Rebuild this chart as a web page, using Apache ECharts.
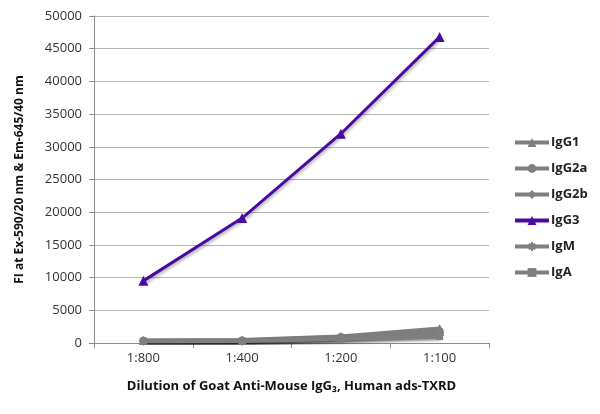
<!DOCTYPE html>
<html>
<head>
<meta charset="utf-8">
<style>
  html, body { margin: 0; padding: 0; background: #fff; }
  #mychart { width: 600px; height: 414px; }
</style>
<script src="https://cdn.jsdelivr.net/npm/echarts@6/dist/echarts.min.js"></script>
</head>
<body>
<div id="mychart"></div>
<script>
// data
const dilutions = ['1:800', '1:400', '1:200', '1:100'];
const igG1 = [400, 450, 1000, 2200];
const igG2a = [350, 400, 900, 1800];
const igG2b = [300, 350, 800, 1500];
const igG3 = [9500, 19100, 32000, 46800];
const igM = [300, 300, 700, 1200];
const igA = [250, 300, 600, 1000];

const gray = '#7f7f7f';
const purple = '#4a0c9e';
const font = '"Open Sans", "DejaVu Sans", sans-serif';
// asterisk marker for IgM
const starPath = 'path://M5,0L5,10M0,5L10,5M1.5,1.5L8.5,8.5M8.5,1.5L1.5,8.5';

function makeSeries(name, data, symbol, color, width, size) {
  return {
    name: name,
    type: 'line',
    data: data,
    symbol: symbol,
    symbolSize: size,
    lineStyle: {
      color: color,
      width: width,
      shadowColor: 'rgba(0,0,0,0.3)',
      shadowBlur: 3,
      shadowOffsetX: 1,
      shadowOffsetY: 2,
    },
    itemStyle: {
      color: color,
      borderColor: color,
      borderWidth: symbol === starPath ? 1.5 : 0,
    },
  };
}

let myChart = echarts.init(document.getElementById('mychart'));
let option = {
  animation: false,
  textStyle: { fontFamily: font },
  grid: { left: 94, right: 111, top: 16, bottom: 71 },
  legend: {
    orient: 'vertical',
    left: 508,
    top: 131,
    itemGap: 13,
    itemWidth: 34,
    itemHeight: 11,
    lineStyle: { width: 4 },
    textStyle: { fontSize: 13, fontWeight: 'bold', color: '#222', padding: [0, 0, 0, -3] },
    data: ['IgG1', 'IgG2a', 'IgG2b', 'IgG3', 'IgM', 'IgA'],
  },
  xAxis: {
    type: 'category',
    data: dilutions,
    boundaryGap: true,
    name: 'Dilution of Goat Anti-Mouse IgG\u2083, Human ads-TXRD',
    nameLocation: 'middle',
    nameGap: 37,
    nameTextStyle: { fontSize: 13, fontWeight: 'bold', color: '#111' },
    axisLine: { lineStyle: { color: '#8c8c8c', width: 1 } },
    axisTick: { show: true, length: 5, lineStyle: { color: '#8c8c8c' } },
    axisLabel: { color: '#333', fontSize: 13, margin: 9 },
  },
  yAxis: {
    type: 'value',
    min: 0,
    max: 50000,
    interval: 5000,
    name: 'FI at Ex-590/20 nm & Em-645/40 nm',
    nameLocation: 'middle',
    nameGap: 68,
    nameTextStyle: { fontSize: 12, fontWeight: 'bold', color: '#111' },
    axisLine: { show: true, lineStyle: { color: '#8c8c8c', width: 1 } },
    axisTick: { show: true, length: 5, lineStyle: { color: '#8c8c8c' } },
    axisLabel: { color: '#333', fontSize: 13, margin: 12, formatter: (v) => String(v) },
    splitLine: { lineStyle: { color: '#b4b4b4', width: 1 } },
  },
  series: [
    makeSeries('IgG1', igG1, 'triangle', gray, 4, 9),
    makeSeries('IgG2a', igG2a, 'circle', gray, 4, 8),
    makeSeries('IgG2b', igG2b, 'diamond', gray, 4, 9),
    makeSeries('IgM', igM, starPath, gray, 4, 9),
    makeSeries('IgA', igA, 'rect', gray, 4, 7),
    makeSeries('IgG3', igG3, 'triangle', purple, 3, 10),
  ],
};

myChart.setOption(option);
</script>
</body>
</html>
